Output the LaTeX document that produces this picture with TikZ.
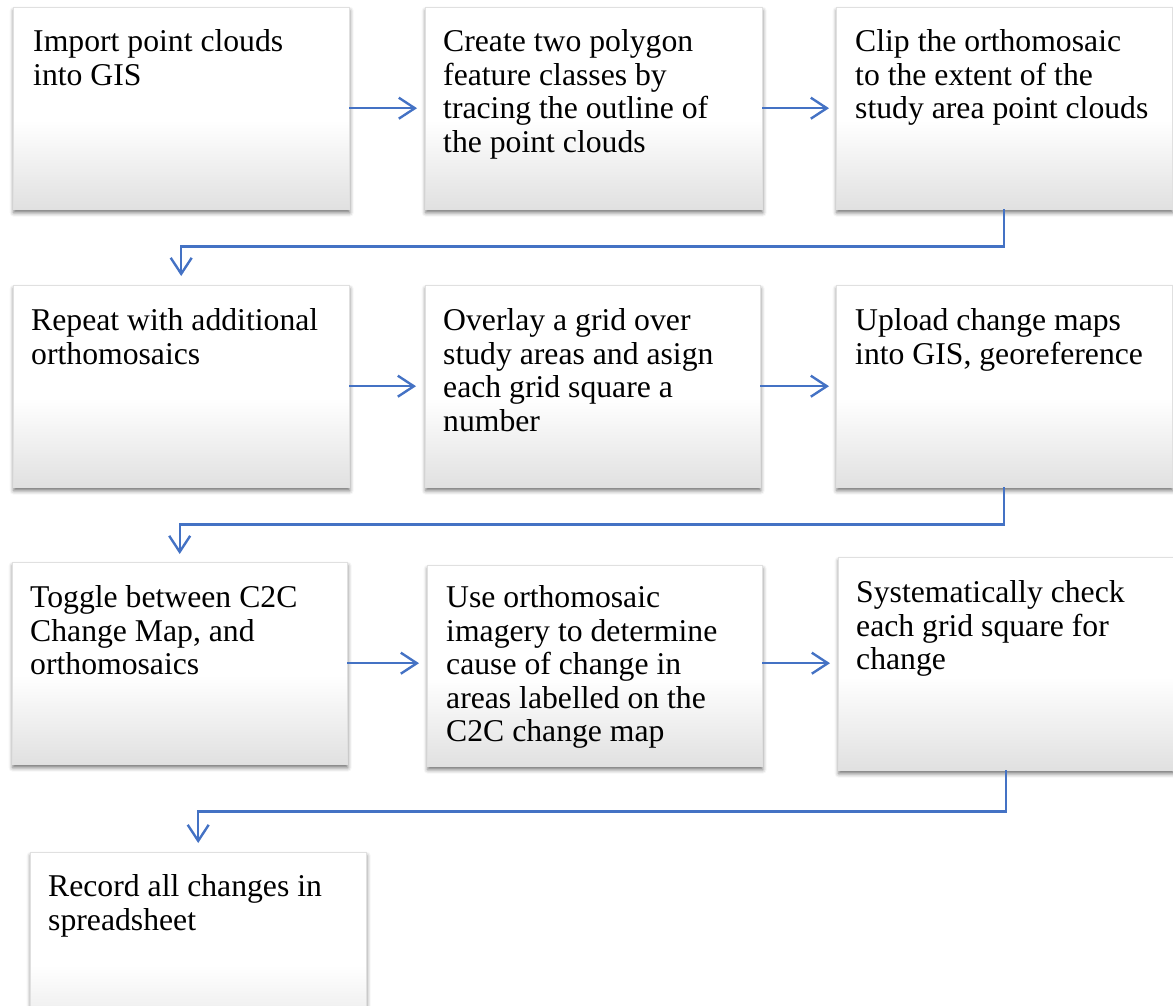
\documentclass[tikz,border=0pt]{standalone}
\usepackage{fontspec}
\setmainfont{Liberation Serif}
\usetikzlibrary{arrows.meta,shadows.blur}
\definecolor{flowblue}{HTML}{4472C4}
% white upper half fading to light grey at the bottom
\pgfdeclareverticalshading{stepshade}{100bp}{color(0bp)=(black!12); color(25bp)=(black!12); color(47bp)=(white); color(100bp)=(white)}
\tikzset{
  stepbox/.style={rectangle, draw=black!12, line width=0.4pt, shade, shading=stepshade,
    anchor=north west, minimum width=336pt, minimum height=202pt, inner sep=0pt,
    blur shadow={shadow xshift=0.5pt, shadow yshift=-3.5pt, shadow blur radius=4pt, shadow opacity=55}},
  steptext/.style={anchor=north west, inner sep=0pt, align=left, font=\fontsize{31.7}{33.5}\selectfont},
  flow/.style={draw=flowblue, line width=2.4pt, -{Straight Barb[length=16pt,width=21pt]}},
}
\begin{document}
\begin{tikzpicture}[x=1pt,y=-1pt]
\useasboundingbox (0,0) rectangle (1173,1005);

% boxes
\node[stepbox] (b1) at (13,7) {};
\node[stepbox, minimum width=337pt] (b2) at (425,7) {};
\node[stepbox] (b3) at (836,7) {};
\node[stepbox] (b4) at (13,285) {};
\node[stepbox, minimum width=335pt] (b5) at (425,285) {};
\node[stepbox] (b6) at (836,285) {};
\node[stepbox, minimum width=335pt] (b7) at (12,562) {};
\node[stepbox, minimum width=335pt, minimum height=201pt] (b8) at (427,565) {};
\node[stepbox, minimum width=335pt, minimum height=213pt] (b9) at (838,557) {};
\node[stepbox] (b10) at (30,852) {};

% texts
\node[steptext] (t1) at ([shift={(20pt,-21pt)}]b1.north west) {\strut Import point clouds\\into GIS};
\node[steptext] (t2) at ([shift={(18pt,-21pt)}]b2.north west) {\strut Create two polygon\\feature classes by\\tracing the outline of\\the point clouds};
\node[steptext] (t3) at ([shift={(19pt,-21pt)}]b3.north west) {\strut Clip the orthomosaic\\to the extent of the\\study area point clouds};
\node[steptext] (t4) at ([shift={(18pt,-22pt)}]b4.north west) {\strut Repeat with additional\\orthomosaics};
\node[steptext] (t5) at ([shift={(18pt,-22pt)}]b5.north west) {\strut Overlay a grid over\\study areas and asign\\each grid square a\\number};
\node[steptext] (t6) at ([shift={(19pt,-22pt)}]b6.north west) {\strut Upload change maps\\into GIS, georeference};
\node[steptext] (t7) at ([shift={(18pt,-22pt)}]b7.north west) {\strut Toggle between C2C\\Change Map, and\\orthomosaics};
\node[steptext] (t8) at ([shift={(19pt,-19pt)}]b8.north west) {\strut Use orthomosaic\\imagery to determine\\cause of change in\\areas labelled on the\\C2C change map};
\node[steptext] (t9) at ([shift={(18pt,-22pt)}]b9.north west) {\strut Systematically check\\each grid square for\\change};
\node[steptext] (t10) at ([shift={(18pt,-21pt)}]b10.north west) {\strut Record all changes in\\spreadsheet};

% connectors within a row
\draw[flow, shorten >=8pt] (b1.east) -- (b2.west |- b1.east);
\draw[flow, shorten >=7pt] (b2.east) -- (b3.west |- b2.east);
\draw[flow, shorten >=9pt] (b4.east) -- (b5.west |- b4.east);
\draw[flow, shorten >=7pt] (b5.east) -- (b6.west |- b5.east);
\draw[flow, shorten >=8pt] (b7.east) -- (b8.west |- b7.east);
\draw[flow, shorten >=8pt] (b8.east |- b7.east) -- (b9.west |- b7.east);

% connectors between rows
\draw[flow, shorten >=9pt] (b3.south) -- ++(0,37) -| (b4.north);
\draw[flow, shorten >=8pt] (b6.south) -- ++(0,37) -| (b7.north);
\draw[flow, shorten >=9pt] (b9.south) -- ++(0,41) -| (b10.north);
\end{tikzpicture}
\end{document}
